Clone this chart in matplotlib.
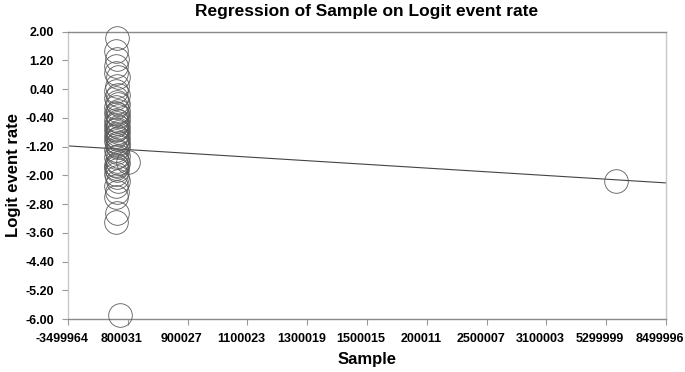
import matplotlib
matplotlib.use("Agg")
import matplotlib.pyplot as plt
import matplotlib.transforms as mtransforms
import numpy as np

# ---- data (x in tick-index units of the original axis) ----
x_tick_labels = ["-3499964", "800031", "900027", "1100023", "1300019", "1500015",
                 "200011", "2500007", "3100003", "5299999", "8499996"]
y_ticks = [2.00, 1.20, 0.40, -0.40, -1.20, -2.00, -2.80, -3.60, -4.40, -5.20, -6.00]

cluster_y = [1.82, 1.45, 1.25, 1.05, 0.85, 0.75, 0.50, 0.35, 0.25, 0.15, 0.05,
             0.00, -0.10, -0.20, -0.25, -0.30, -0.35, -0.45, -0.50, -0.55,
             -0.60, -0.65, -0.70, -0.75, -0.80, -0.85, -0.90, -0.95, -1.00,
             -1.05, -1.10, -1.15, -1.20, -1.30, -1.35, -1.45, -1.50, -1.60,
             -1.65, -1.70, -1.75, -1.80, -1.85, -1.95, -2.05, -2.15, -2.30,
             -2.45, -2.60, -3.05, -3.30]
cluster_x = [0.82, 0.80, 0.82, 0.81, 0.80, 0.83, 0.82, 0.81, 0.83, 0.80, 0.82,
             0.84, 0.81, 0.83, 0.80, 0.82, 0.84, 0.81, 0.83, 0.82, 0.80, 0.84,
             0.82, 0.81, 0.83, 0.82, 0.80, 0.84, 0.82, 0.81, 0.83, 0.82, 0.84,
             0.80, 0.82, 0.83, 0.81, 0.82, 0.83, 0.81, 0.82, 0.80, 0.82, 0.81,
             0.82, 0.83, 0.81, 0.82, 0.80, 0.82, 0.81]
extra_x = [1.00, 0.87, 9.16]
extra_y = [-1.63, -5.89, -2.16]

reg_intercept = -1.18
reg_slope = -0.103
reg_x = [0, 10]

plt.rcParams["font.family"] = ["Liberation Sans", "DejaVu Sans"]

fig = plt.figure(figsize=(6.85, 3.72), dpi=100)
ax = fig.add_axes([68/685, 53/372, (666-68)/685, (319-31.7)/372])

xs = list(cluster_x) + list(extra_x)
ys = list(cluster_y) + list(extra_y)
ax.plot(xs, ys, linestyle="none", marker="o", markersize=17,
        markerfacecolor="none", markeredgecolor="#5a5a5a", markeredgewidth=0.6,
        clip_on=False, zorder=3)

rx = np.array(reg_x, dtype=float)
ax.plot(rx, reg_intercept + reg_slope * rx, color="#444444", lw=0.8, zorder=2)

ax.set_xlim(0, 10)
ax.set_ylim(-6, 2)
ax.set_xticks(range(len(x_tick_labels)))
ax.set_xticklabels([""] * len(x_tick_labels))
ax.set_yticks(y_ticks)
ax.set_yticklabels([f"{v:.2f}" for v in y_ticks], fontsize=9, fontweight="bold")

# x tick labels, slightly left of each tick as in the original
lab_trans = ax.get_xaxis_transform() + mtransforms.ScaledTranslation(-6/100, -14/100, fig.dpi_scale_trans)
for i, lab in enumerate(x_tick_labels):
    ax.text(i, 0, lab, transform=lab_trans, ha="center", va="top",
            fontsize=9, fontweight="bold", clip_on=False)

for s, c in [("left", "#c8c8c8"), ("right", "#c8c8c8"), ("top", "#8a8a8a"), ("bottom", "#8a8a8a")]:
    ax.spines[s].set_color(c)
    ax.spines[s].set_linewidth(1.0)
ax.tick_params(axis="both", length=4, width=0.8, color="#999999")
ax.tick_params(axis="x", pad=6)
ax.tick_params(axis="y", pad=6)

ax.set_title("Regression of Sample on Logit event rate", fontsize=12.5, fontweight="bold", pad=11)
ax.set_xlabel("Sample", fontsize=12, fontweight="bold", labelpad=14)
ax.set_ylabel("Logit event rate", fontsize=12, fontweight="bold", labelpad=3)

fig.savefig("out.png", dpi=100)
